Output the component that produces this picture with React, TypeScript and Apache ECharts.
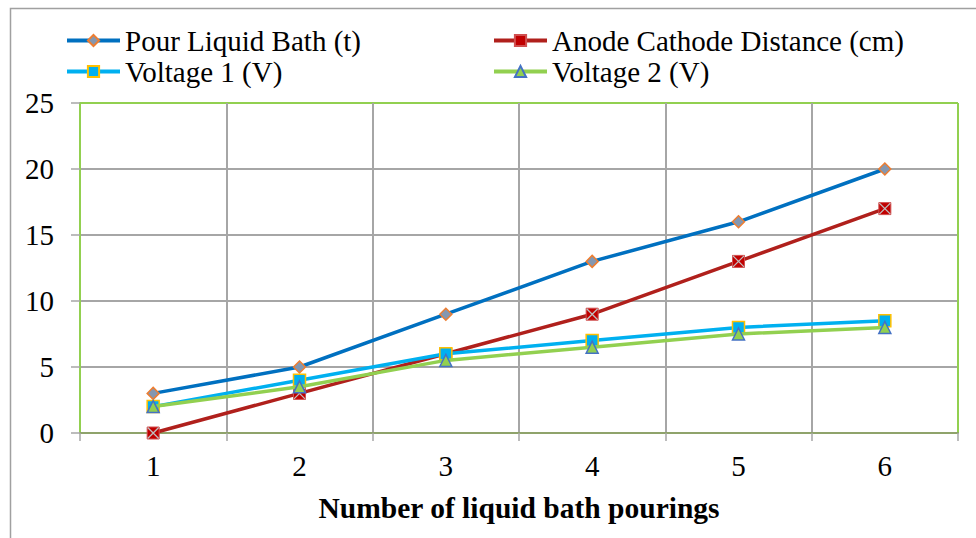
import React, { useEffect, useRef } from "react";
import * as echarts from "echarts";

const categories = ["1", "2", "3", "4", "5", "6"];
const pourLiquidBath = [3, 5, 9, 13, 16, 20];
const anodeCathode = [0, 3, 6, 9, 13, 17];
const voltage1 = [2, 4, 6, 7, 8, 8.5];
const voltage2 = [2, 3.5, 5.5, 6.5, 7.5, 8];
const seriesNames = ["Pour Liquid Bath (t)", "Anode Cathode Distance (cm)", "Voltage 1 (V)", "Voltage 2 (V)"];
const xTitle = "Number of liquid bath pourings";

const FONT = "Liberation Serif, DejaVu Serif, serif";
const GRID_GREY = "#a6a6a6";
const GREEN = "#92d050";

export default function App() {
  const ref = useRef<HTMLDivElement>(null);
  useEffect(() => {
    if (!ref.current) return;
    const chart = echarts.init(ref.current, null, { renderer: "svg" });
    const legendText = { fontFamily: FONT, fontSize: 29, color: "#000", lineHeight: 31 };
    chart.setOption({
      animation: false,
      backgroundColor: "#fff",
      textStyle: { fontFamily: FONT },
      graphic: [
        {
          type: "rect",
          shape: { x: 10.5, y: 8.5, width: 1000, height: 700 },
          style: { fill: "none", stroke: "#a0a0a0", lineWidth: 1.5 },
          silent: true,
          z: -10,
        },
      ],
      legend: [
        {
          data: [seriesNames[0], seriesNames[2]],
          orient: "vertical",
          left: 60,
          top: 20,
          itemWidth: 53,
          itemHeight: 14,
          itemGap: 0,
          lineStyle: { width: 4 },
          textStyle: legendText,
        },
        {
          data: [seriesNames[1], seriesNames[3]],
          orient: "vertical",
          left: 487,
          top: 20,
          itemWidth: 53,
          itemHeight: 14,
          itemGap: 0,
          lineStyle: { width: 4 },
          textStyle: legendText,
        },
      ],
      grid: { left: 80, right: 18, top: 103, bottom: 105 },
      xAxis: {
        type: "category",
        data: categories,
        boundaryGap: true,
        name: xTitle,
        nameLocation: "middle",
        nameGap: 60,
        nameTextStyle: { fontFamily: FONT, fontSize: 29.5, fontWeight: "bold", color: "#000" },
        axisLine: { show: true, lineStyle: { color: "#8fa36b", width: 2 } },
        axisTick: { show: true, length: 8, lineStyle: { color: GRID_GREY, width: 1.5 } },
        axisLabel: { fontFamily: FONT, fontSize: 29, color: "#000", margin: 18 },
        splitLine: {
          show: true,
          lineStyle: { color: [GREEN, GRID_GREY, GRID_GREY, GRID_GREY, GRID_GREY, GRID_GREY, GREEN], width: 2 },
        },
      },
      yAxis: {
        type: "value",
        min: 0,
        max: 25,
        interval: 5,
        axisLine: { show: true, lineStyle: { color: GREEN, width: 2 } },
        axisTick: { show: true, length: 9, lineStyle: { color: GRID_GREY, width: 1.5 } },
        axisLabel: { fontFamily: FONT, fontSize: 29, color: "#000", margin: 26 },
        splitLine: {
          show: true,
          lineStyle: { color: [GRID_GREY, GRID_GREY, GRID_GREY, GRID_GREY, GRID_GREY, GREEN], width: 2 },
        },
      },
      series: [
        {
          name: seriesNames[0],
          type: "line",
          data: pourLiquidBath,
          symbol: "diamond",
          symbolSize: 12,
          lineStyle: { color: "#0070c0", width: 3.5 },
          itemStyle: { color: "#8497b0", borderColor: "#ed7d31", borderWidth: 1.5 },
          z: 4,
        },
        {
          name: seriesNames[1],
          type: "line",
          data: anodeCathode,
          symbol: "rect",
          symbolSize: 12,
          lineStyle: { color: "#b0201c", width: 3.5 },
          itemStyle: { color: "#c00000", borderColor: "#d05050", borderWidth: 1 },
          z: 2,
        },
        {
          name: "anodeX",
          type: "line",
          data: anodeCathode,
          symbol: "path://M0,0L10,10M10,0L0,10",
          symbolSize: 11,
          lineStyle: { opacity: 0, width: 0 },
          itemStyle: { color: "none", borderColor: "#bfbfbf", borderWidth: 1.3 },
          silent: true,
          z: 3,
        },
        {
          name: seriesNames[2],
          type: "line",
          data: voltage1,
          symbol: "rect",
          symbolSize: 12,
          lineStyle: { color: "#00b0f0", width: 3.5 },
          itemStyle: { color: "#00b0f0", borderColor: "#ffc000", borderWidth: 1.5 },
          z: 5,
        },
        {
          name: seriesNames[3],
          type: "line",
          data: voltage2,
          symbol: "triangle",
          symbolSize: 12,
          lineStyle: { color: GREEN, width: 3.5 },
          itemStyle: { color: GREEN, borderColor: "#4472c4", borderWidth: 1.5 },
          z: 6,
        },
      ],
    });
    return () => chart.dispose();
  }, []);
  return (
    <div
      ref={ref}
      style={{ position: "fixed", left: 0, top: 0, width: 976, height: 538 }}
    />
  );
}
